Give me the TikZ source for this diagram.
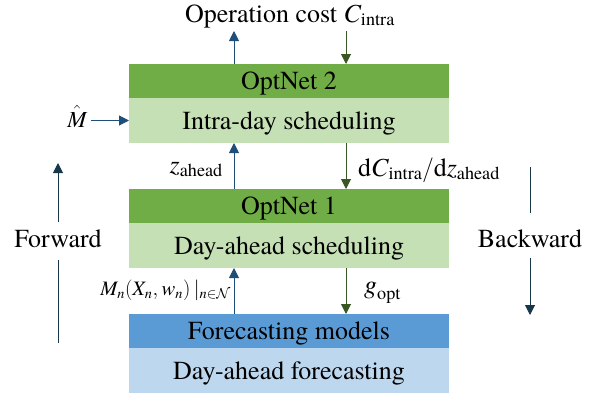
\documentclass[tikz,border=0pt]{standalone}
\usepackage{amsmath,amssymb}
\usepackage{fontspec}
\setmainfont{texgyretermes}[Extension=.otf, UprightFont=*-regular,
  ItalicFont=*-italic, BoldFont=*-bold, BoldItalicFont=*-bolditalic]
\usepackage{tikz}
\usetikzlibrary{positioning,arrows.meta}
\definecolor{headgreen}{RGB}{112,173,71}
\definecolor{lightgreen}{RGB}{197,224,180}
\definecolor{headblue}{RGB}{91,155,213}
\definecolor{lightblue}{RGB}{189,215,238}
\definecolor{arrowblue}{RGB}{31,78,121}
\definecolor{arrowgreen}{RGB}{56,87,35}
\definecolor{arrowdark}{RGB}{24,56,74}
\tikzset{
headbox/.style = {rectangle, fill=#1, minimum width=320pt, minimum height=34pt,
  inner sep=0pt, outer sep=0pt, text height=17pt, text depth=0pt},
headbox/.default = headgreen,
bodybox/.style = {rectangle, fill=#1, minimum width=320pt, minimum height=45pt,
  inner sep=0pt, outer sep=0pt, text height=17pt, text depth=0pt},
bodybox/.default = lightgreen, % lower half of each block
fwd/.style = {draw=arrowblue, line width=1pt, -{Triangle[length=10pt,width=10pt]}},
bwd/.style = {draw=arrowgreen, line width=1pt, -{Triangle[length=10pt,width=10pt]}},
passline/.style = {draw=arrowdark, line width=1pt},
lbl/.style = {inner sep=0pt},
small/.style = {font=\fontsize{20.5}{24}\selectfont}
}

\begin{document}
\begin{tikzpicture}[x=1pt, y=-1pt, font=\fontsize{26}{31}\selectfont]
  \useasboundingbox (0,0) rectangle (601,399);

  % blocks
  \node [headbox] (opt2) at (289,81) {OptNet 2};
  \node [bodybox, below=0pt of opt2] (intra) {Intra-day scheduling};
  \node [headbox, below=46pt of intra] (opt1) {OptNet 1};
  \node [bodybox, below=0pt of opt1] (dayahead) {Day-ahead scheduling};
  \node [headbox=headblue, below=46pt of dayahead] (fc) {Forecasting models};
  \node [bodybox=lightblue, below=0pt of fc] (dayfc) {Day-ahead forecasting};

  \coordinate (upx) at (234,0);
  \coordinate (dnx) at (346,0);
  \coordinate (costout) at (234,31);
  \coordinate (costin) at (346,31);

  % labels
  \node [lbl, anchor=base] (cost) at (290,22) {Operation cost $\textit{C}_{\text{intra}}$};
  \node [lbl, font=\fontsize{23}{27}\selectfont, anchor=base] (mhat) at (77,127) {$\hat{\textit{M}}$};
  \node [lbl, anchor=base east] (zlbl) at (223,173) {$\textit{z}_{\text{ahead}}$};
  \node [lbl, anchor=base west] (dclbl) at (358,176)
    {$\text{d}\textit{C}_{\text{intra}}/\text{d}\textit{z}_{\text{ahead}}$};
  \node [lbl, small, anchor=base east] (mlbl) at (231,295)
    {$\textit{M}_{\textit{n}}(\textit{X}_{\textit{n}},\textit{w}_{\textit{n}})\,|_{\textit{n}\in\mathcal{N}}$};
  \node [lbl, anchor=base west] (glbl) at (364,293) {$\textit{g}_{\text{opt}}$};
  \node [lbl, anchor=base] (fwdtxt) at (58,247) {Forward};
  \node [lbl, anchor=base] (bwdtxt) at (530,247) {Backward};

  % data flow
  \draw [fwd] (opt2.north -| costout) -- (costout);
  \draw [bwd] (costin) -- (opt2.north -| costin);
  \draw [fwd] ([xshift=4pt]mhat.east |- intra.west) -- (intra.west);
  \draw [fwd] (opt1.north -| upx) -- (intra.south -| upx);
  \draw [bwd] (intra.south -| dnx) -- (opt1.north -| dnx);
  \draw [fwd] (fc.north -| upx) -- (dayahead.south -| upx);
  \draw [bwd] (dayahead.south -| dnx) -- (fc.north -| dnx);

  % forward / backward passes
  \coordinate (fwdbot) at (58,343);
  \coordinate (fwdtop) at (58,163);
  \coordinate (bwdtop) at (530,167);
  \coordinate (bwdbot) at (530,315);
  \draw [passline] (fwdbot) -- ([yshift=-13pt]fwdtxt.base);
  \draw [passline, -{Triangle[length=10pt,width=10pt]}] ([yshift=25pt]fwdtxt.base) -- (fwdtop);
  \draw [passline] (bwdtop) -- ([yshift=34pt]bwdtxt.base);
  \draw [passline, -{Triangle[length=10pt,width=10pt]}] ([yshift=-11pt]bwdtxt.base) -- (bwdbot);
\end{tikzpicture}
\end{document}
